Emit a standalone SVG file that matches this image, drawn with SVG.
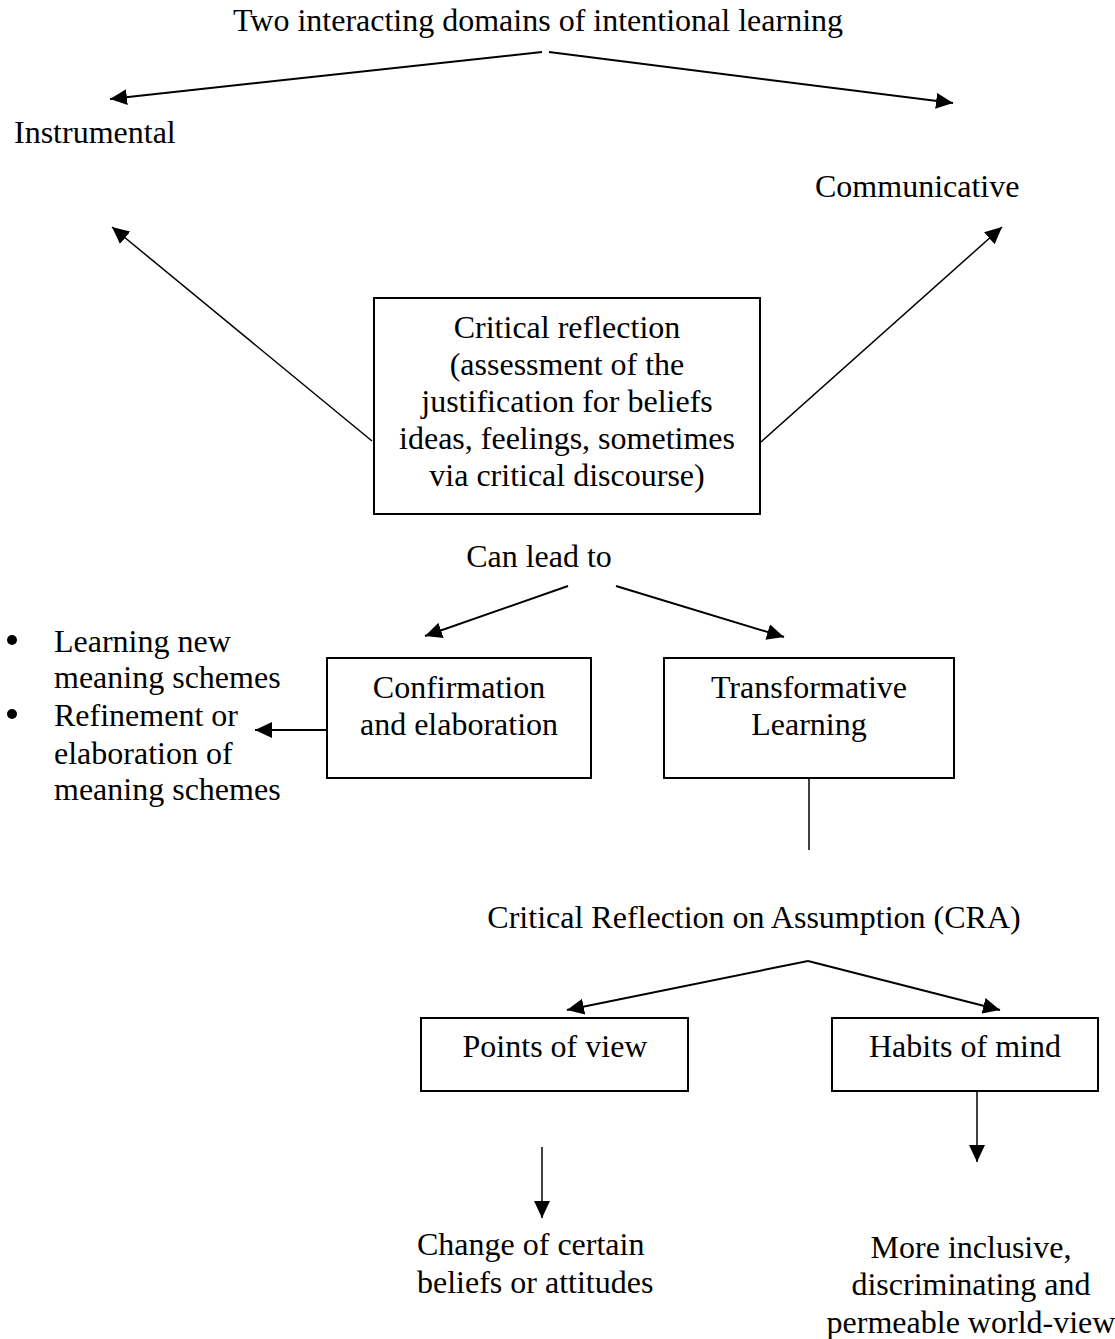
<svg xmlns="http://www.w3.org/2000/svg" width="1115" height="1339" viewBox="0 0 1115 1339">
  <style>
    text { font-family: "Liberation Serif", "Times New Roman", serif; font-size: 32px; fill: #000; }
    .c { text-anchor: middle; }
    .box { fill: #fff; stroke: #000; stroke-width: 2; }
    .edge { fill: none; stroke: #000; stroke-width: 2; }
    .thin { stroke-width: 1.5; }
    .dot { fill: #000; }
  </style>
  <defs>
    <marker id="arrow" markerUnits="userSpaceOnUse" markerWidth="18" markerHeight="16" refX="17" refY="8" orient="auto">
      <path d="M0,0 L17,8 L0,16 z" fill="#000"/>
    </marker>
  </defs>
  <rect width="1115" height="1339" fill="#fff"/>

  <!-- connectors -->
  <g id="connectors">
    <line class="edge" x1="542" y1="52" x2="110" y2="99" marker-end="url(#arrow)"/>
    <line class="edge" x1="549" y1="52" x2="953" y2="103" marker-end="url(#arrow)"/>
    <line class="edge thin" x1="372" y1="441" x2="112" y2="227" marker-end="url(#arrow)"/>
    <line class="edge thin" x1="761" y1="442" x2="1002" y2="227" marker-end="url(#arrow)"/>
    <line class="edge" x1="568" y1="586" x2="425" y2="636" marker-end="url(#arrow)"/>
    <line class="edge" x1="616" y1="586" x2="784" y2="637" marker-end="url(#arrow)"/>
    <line class="edge" x1="327" y1="730" x2="255" y2="730" marker-end="url(#arrow)"/>
    <line class="edge thin" x1="809" y1="778" x2="809" y2="850"/>
    <line class="edge" x1="808" y1="961" x2="567" y2="1010" marker-end="url(#arrow)"/>
    <line class="edge" x1="808" y1="961" x2="1000" y2="1010" marker-end="url(#arrow)"/>
    <line class="edge thin" x1="977" y1="1091" x2="977" y2="1162" marker-end="url(#arrow)"/>
    <line class="edge thin" x1="542" y1="1147" x2="542" y2="1218" marker-end="url(#arrow)"/>
  </g>

  <g id="title">
    <text class="c" x="538" y="31">Two interacting domains of intentional learning</text>
  </g>
  <g id="instrumental">
    <text x="14" y="143">Instrumental</text>
  </g>
  <g id="communicative">
    <text x="815" y="197">Communicative</text>
  </g>

  <g id="critical-reflection">
    <rect class="box" x="374" y="298" width="386" height="216"/>
    <text class="c" x="567" y="338">Critical reflection</text>
    <text class="c" x="567" y="375">(assessment of the</text>
    <text class="c" x="567" y="412">justification for beliefs</text>
    <text class="c" x="567" y="449">ideas, feelings, sometimes</text>
    <text class="c" x="567" y="486">via critical discourse)</text>
  </g>

  <g id="can-lead-to">
    <text class="c" x="539" y="567">Can lead to</text>
  </g>

  <g id="outcomes-list">
    <circle class="dot" cx="12" cy="640" r="5"/>
    <text x="54" y="652">Learning new</text>
    <text x="54" y="688">meaning schemes</text>
    <circle class="dot" cx="12" cy="714" r="5"/>
    <text x="54" y="726">Refinement or</text>
    <text x="54" y="764">elaboration of</text>
    <text x="54" y="800">meaning schemes</text>
  </g>

  <g id="confirmation">
    <rect class="box" x="327" y="658" width="264" height="120"/>
    <text class="c" x="459" y="698">Confirmation</text>
    <text class="c" x="459" y="735">and elaboration</text>
  </g>

  <g id="transformative">
    <rect class="box" x="664" y="658" width="290" height="120"/>
    <text class="c" x="809" y="698">Transformative</text>
    <text class="c" x="809" y="735">Learning</text>
  </g>

  <g id="cra">
    <text class="c" x="754" y="928">Critical Reflection on Assumption (CRA)</text>
  </g>

  <g id="points-of-view">
    <rect class="box" x="421" y="1018" width="267" height="73"/>
    <text class="c" x="555" y="1057">Points of view</text>
  </g>

  <g id="habits-of-mind">
    <rect class="box" x="832" y="1018" width="266" height="73"/>
    <text class="c" x="965" y="1057">Habits of mind</text>
  </g>

  <g id="change-beliefs">
    <text x="417" y="1255">Change of certain</text>
    <text x="417" y="1293">beliefs or attitudes</text>
  </g>

  <g id="world-view">
    <text class="c" x="971" y="1258">More inclusive,</text>
    <text class="c" x="971" y="1295">discriminating and</text>
    <text class="c" x="971" y="1333">permeable world-view</text>
  </g>
</svg>
